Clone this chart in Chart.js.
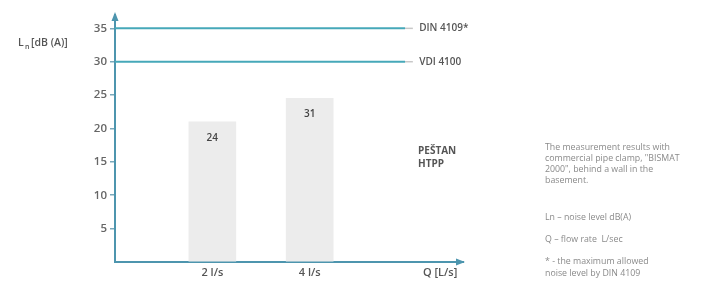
<!DOCTYPE html>
<html>
<head>
<meta charset="utf-8">
<script src="https://cdn.jsdelivr.net/npm/chart.js@4.4.1/dist/chart.umd.min.js"></script>
<style>
html,body{margin:0;padding:0;background:#fff;}
#wrap{position:relative;width:707px;height:281px;}
</style>
</head>
<body>
<div id="wrap"><canvas id="c" width="707" height="281"></canvas></div>
<script>
// ---- data ----
const flowRates = [2, 4];                 // Q [L/s]
const noiseLevels = [21, 24.5];           // bar heights
const barLabels = ['24', '31'];           // labels printed on bars
const xTickValues = [2, 4, 6.68];
const xTickLabels = ['2 l/s', '4 l/s', 'Q [L/s]'];
const yTickValues = [0, 5, 10, 15, 20, 25, 30, 35];
const refNames = ['DIN 4109*', 'VDI 4100'];
const refValues = [35, 30];
const productLines = ['PEŠTAN', 'HTPP'];
const noteLines = [
  'The measurement results with',
  'commercial pipe clamp, "BISMAT',
  '2000", behind a wall in the',
  'basement.',
  'Ln – noise level dB(A)',
  'Q – flow rate  L/sec',
  '* - the maximum allowed',
  'noise level by DIN 4109'
];

// ---- style ----
const FONT = '"Open Sans", "DejaVu Sans", sans-serif';
const axisColor = '#4d95ae';
const refColor = '#46a8b9';
const textColor = '#666';
const refEnd = 5.96, refStubEnd = 6.12, refLabelX = 6.25;

const refDatasets = [];
refValues.forEach(v => {
  refDatasets.push({type:'line', data:[{x:0,y:v},{x:refEnd,y:v}], borderColor:refColor, borderWidth:2, pointRadius:0, order:0});
  refDatasets.push({type:'line', data:[{x:refEnd,y:v},{x:refStubEnd,y:v}], borderColor:'#c8c8c8', borderWidth:1.5, pointRadius:0, order:0});
});

const decor = {
  id:'decor',
  afterDraw(chart){
    const ctx = chart.ctx, xs = chart.scales.x, ys = chart.scales.y, a = chart.chartArea;
    ctx.save();
    // arrows
    ctx.fillStyle = axisColor;
    ctx.beginPath();
    ctx.moveTo(a.left, a.top - 3); ctx.lineTo(a.left - 3.5, a.top + 6); ctx.lineTo(a.left + 3.5, a.top + 6); ctx.closePath(); ctx.fill();
    ctx.beginPath();
    ctx.moveTo(a.right + 2, a.bottom); ctx.lineTo(a.right - 7, a.bottom - 3.5); ctx.lineTo(a.right - 7, a.bottom + 3.5); ctx.closePath(); ctx.fill();
    // ref labels
    ctx.fillStyle = '#555';
    ctx.font = '600 10px ' + FONT;
    ctx.textBaseline = 'middle'; ctx.textAlign = 'left';
    refValues.forEach((v,i) => ctx.fillText(refNames[i], xs.getPixelForValue(refLabelX), ys.getPixelForValue(v)));
    // bar labels
    ctx.textAlign = 'center';
    ctx.fillStyle = '#444';
    ctx.font = '600 10px ' + FONT;
    flowRates.forEach((q,i) => ctx.fillText(barLabels[i], xs.getPixelForValue(q), ys.getPixelForValue(noiseLevels[i]) + 16));
    // y title
    ctx.textAlign = 'left';
    ctx.fillStyle = '#555';
    ctx.font = '600 10.5px ' + FONT;
    ctx.fillText('L', 18, 43);
    ctx.font = '600 7px ' + FONT;
    ctx.fillText('n', 25, 47);
    ctx.font = '600 10.5px ' + FONT;
    ctx.fillText('[dB (A)]', 31, 43);
    // product
    ctx.font = '700 10px ' + FONT;
    ctx.fillStyle = '#555';
    productLines.forEach((t,i) => ctx.fillText(t, 418, 151 + i*13));
    // notes
    ctx.font = '8.8px ' + FONT;
    ctx.fillStyle = '#8a8a8a';
    const ny = [147, 158, 169, 180, 217, 239, 261, 273];
    noteLines.forEach((t,i) => ctx.fillText(t, 545, ny[i]));
    ctx.restore();
  }
};

new Chart(document.getElementById('c'), {
  data: {
    datasets: [
      {type:'bar', data: flowRates.map((q,i) => ({x:q, y:noiseLevels[i]})), backgroundColor:'#ececec', barThickness:47, order:1},
      ...refDatasets
    ]
  },
  options: {
    responsive:false, animation:false,
    layout:{padding:{left:0, right:244, top:15, bottom:0}},
    plugins:{legend:{display:false}, tooltip:{enabled:false}},
    scales:{
      x:{type:'linear', min:0, max:7.15, offset:false,
        afterFit: s => { s.height = 19; },
        afterBuildTicks: s => { s.ticks = xTickValues.map(v => ({value:v})); },
        grid:{drawOnChartArea:false, drawTicks:false, offset:false},
        border:{color:axisColor, width:2},
        ticks:{callback:(v,i) => xTickLabels[i], padding:4, color:'#555', font:{family:FONT, size:11, weight:'600'}, maxRotation:0, autoSkip:false}
      },
      y:{type:'linear', min:0, max:37,
        afterFit: s => { s.width = 115; },
        afterBuildTicks: s => { s.ticks = yTickValues.map(v => ({value:v})); },
        grid:{drawOnChartArea:false, drawTicks:true, tickLength:5, lineWidth:1.5,
          color: c => (c.tick && c.tick.value === 0) ? 'rgba(0,0,0,0)' : '#7aa8ba'},
        border:{color:axisColor, width:2},
        ticks:{callback: v => v === 0 ? '' : String(v), padding:3, color:textColor, font:{family:FONT, size:11.5, weight:'600'}}
      }
    }
  },
  plugins:[decor]
});
</script>
</body>
</html>
